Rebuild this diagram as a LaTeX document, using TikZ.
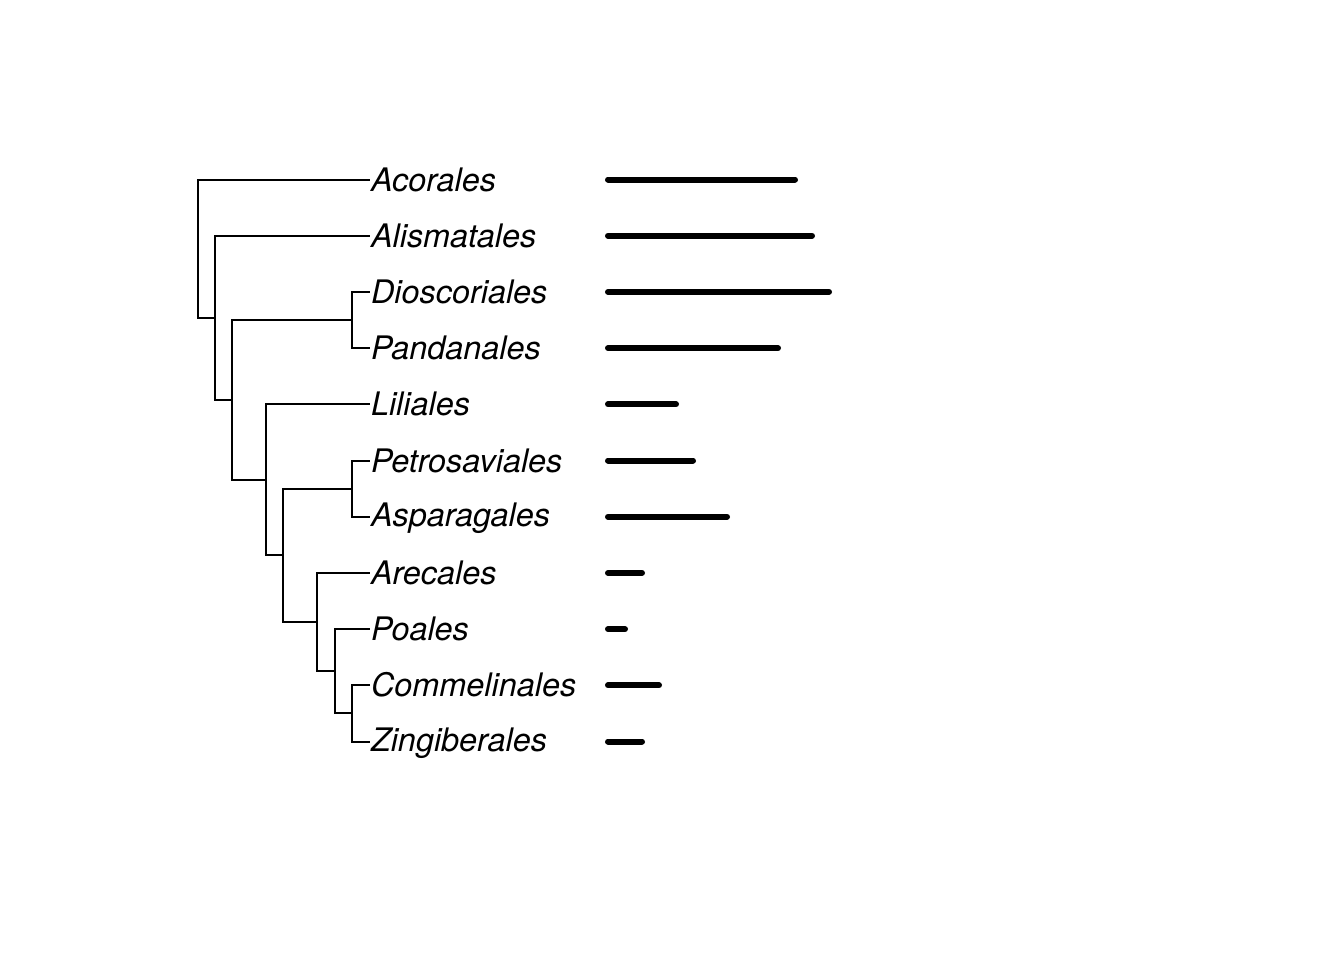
\documentclass[tikz,border=0pt]{standalone}
\usepackage{fontspec}
\setmainfont{TeX Gyre Heros}
\begin{document}
\begin{tikzpicture}[x=0.5pt,y=-0.5pt,
  edge/.style={line width=1pt,line cap=rect},
  bar/.style={line width=3pt,line cap=round},
  taxon/.style={anchor=base west,inner sep=0pt,outer sep=0pt,font=\fontsize{16.2}{19}\selectfont\itshape}]
\useasboundingbox[fill=white] (0,0) rectangle (1344,960);
% tips
\coordinate (t1) at (368.5,179.5);
\coordinate (t2) at (368.5,235.7);
\coordinate (t3) at (368.5,291.9);
\coordinate (t4) at (368.5,348.1);
\coordinate (t5) at (368.5,404.3);
\coordinate (t6) at (368.5,460.5);
\coordinate (t7) at (368.5,516.7);
\coordinate (t8) at (368.5,572.9);
\coordinate (t9) at (368.5,629.1);
\coordinate (t10) at (368.5,685.3);
\coordinate (t11) at (368.5,741.5);
% internal nodes
\coordinate (root) at (198.3,248.65);
\coordinate (n1) at (215.3,317.8);
\coordinate (n2) at (232.3,399.9);
\coordinate (n3) at (351.5,320.0);
\coordinate (n4) at (266.4,479.8);
\coordinate (n5) at (283.4,555.35);
\coordinate (n6) at (351.5,488.6);
\coordinate (n7) at (317.4,622.1);
\coordinate (n8) at (334.5,671.25);
\coordinate (n9) at (351.5,713.4);
% edges
\draw[edge] (root) |- (t1);
\draw[edge] (root) |- (n1);
\draw[edge] (n1) |- (t2);
\draw[edge] (n1) |- (n2);
\draw[edge] (n2) |- (n3);
\draw[edge] (n2) |- (n4);
\draw[edge] (n3) |- (t3);
\draw[edge] (n3) |- (t4);
\draw[edge] (n4) |- (t5);
\draw[edge] (n4) |- (n5);
\draw[edge] (n5) |- (n6);
\draw[edge] (n5) |- (n7);
\draw[edge] (n6) |- (t6);
\draw[edge] (n6) |- (t7);
\draw[edge] (n7) |- (t8);
\draw[edge] (n7) |- (n8);
\draw[edge] (n8) |- (t9);
\draw[edge] (n8) |- (n9);
\draw[edge] (n9) |- (t10);
\draw[edge] (n9) |- (t11);
% labels
\node[taxon] (Acorales) at ([shift={(2.5,11.5)}]t1) {Acorales};
\node[taxon] (Alismatales) at ([shift={(2.5,11.5)}]t2) {Alismatales};
\node[taxon] (Dioscoriales) at ([shift={(2.5,11.5)}]t3) {Dioscoriales};
\node[taxon] (Pandanales) at ([shift={(2.5,11.5)}]t4) {Pandanales};
\node[taxon] (Liliales) at ([shift={(2.5,11.5)}]t5) {Liliales};
\node[taxon] (Petrosaviales) at ([shift={(2.5,11.5)}]t6) {Petrosaviales};
\node[taxon] (Asparagales) at ([shift={(2.5,9.5)}]t7) {Asparagales};
\node[taxon] (Arecales) at ([shift={(2.5,11.5)}]t8) {Arecales};
\node[taxon] (Poales) at ([shift={(2.5,11.5)}]t9) {Poales};
\node[taxon] (Commelinales) at ([shift={(2.5,11.5)}]t10) {Commelinales};
\node[taxon] (Zingiberales) at ([shift={(2.5,9.5)}]t11) {Zingiberales};
% bars
\draw[bar] (608,179.5) -- (795,179.5);
\draw[bar] (608,235.7) -- (812,235.7);
\draw[bar] (608,291.9) -- (829,291.9);
\draw[bar] (608,348.1) -- (778,348.1);
\draw[bar] (608,404.3) -- (676,404.3);
\draw[bar] (608,460.5) -- (693,460.5);
\draw[bar] (608,516.7) -- (727,516.7);
\draw[bar] (608,572.9) -- (642,572.9);
\draw[bar] (608,629.1) -- (625,629.1);
\draw[bar] (608,685.3) -- (659,685.3);
\draw[bar] (608,741.5) -- (642,741.5);
\end{tikzpicture}
\end{document}
